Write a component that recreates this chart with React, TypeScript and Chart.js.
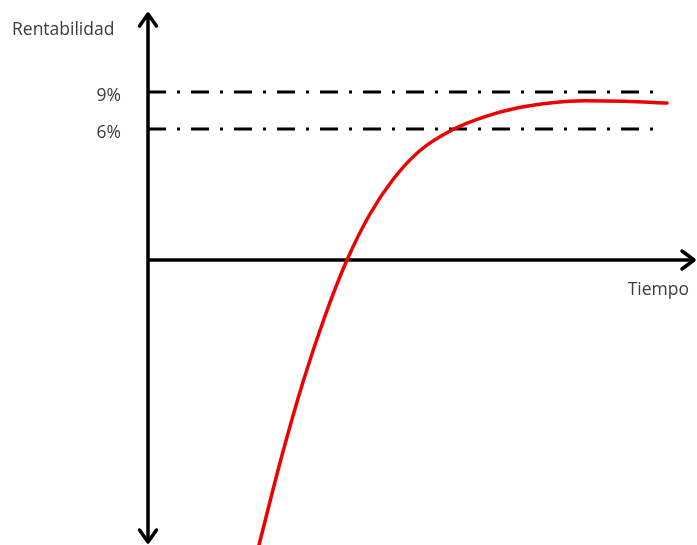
import React, { useEffect, useRef } from "react";
import { Chart, registerables } from "chart.js";

Chart.register(...registerables);

// Schematic units: time and return, origin where the axes cross
const curveTime = [11.1, 13.3, 15.5, 17.7, 19.9, 22.2, 24.5, 27.2, 30.5, 33.7, 37.0, 40.2, 43.7, 47.7, 51.9];
const curveReturn = [-28.5, -19.9, -12.2, -5.6, 0, 4.6, 8.05, 10.95, 13.05, 14.34, 15.23, 15.71, 15.92, 15.87, 15.7];
const refLevels = [16.8, 13.1];
const refLabels = ["9%", "6%"];
const refSpan = [0, 51.5];
const xTitle = "Tiempo";
const yTitle = "Rentabilidad";
const xRange = [-14.8, 54.9];
const yRange = [-28.5, 26.0];

const TEXT_COLOR = "#3c3c3c";
const FONT = '17.5px "Open Sans", "Noto Sans", sans-serif';

const arrowAxes = {
  id: "arrowAxes",
  beforeDatasetsDraw(chart: any) {
    const { ctx } = chart;
    const xs = chart.scales.x;
    const ys = chart.scales.y;
    const x0 = xs.getPixelForValue(0);
    const y0 = ys.getPixelForValue(0);
    const yTop = ys.top + 14;
    const yBot = ys.bottom - 3;
    const xRight = xs.right - 3;
    ctx.save();
    ctx.strokeStyle = "#000";
    ctx.lineWidth = 3.5;
    ctx.lineCap = "butt";
    ctx.beginPath();
    ctx.moveTo(x0, yTop + 1);
    ctx.lineTo(x0, yBot - 1);
    ctx.stroke();
    ctx.beginPath();
    ctx.moveTo(x0, y0);
    ctx.lineTo(xRight - 1, y0);
    ctx.stroke();
    ctx.lineCap = "round";
    ctx.lineJoin = "round";
    ctx.beginPath();
    ctx.moveTo(x0 - 8.5, yTop + 12);
    ctx.lineTo(x0, yTop);
    ctx.lineTo(x0 + 8.5, yTop + 12);
    ctx.stroke();
    ctx.beginPath();
    ctx.moveTo(x0 - 8.5, yBot - 12);
    ctx.lineTo(x0, yBot);
    ctx.lineTo(x0 + 8.5, yBot - 12);
    ctx.stroke();
    ctx.beginPath();
    ctx.moveTo(xRight - 12, y0 - 9);
    ctx.lineTo(xRight, y0);
    ctx.lineTo(xRight - 12, y0 + 9);
    ctx.stroke();
    ctx.restore();
  },
  afterDraw(chart: any) {
    const { ctx } = chart;
    const xs = chart.scales.x;
    const ys = chart.scales.y;
    const x0 = xs.getPixelForValue(0);
    const y0 = ys.getPixelForValue(0);
    ctx.save();
    ctx.font = FONT;
    ctx.fillStyle = TEXT_COLOR;
    ctx.textBaseline = "middle";
    ctx.textAlign = "left";
    ctx.fillText(yTitle, 12, 30);
    ctx.textAlign = "right";
    refLevels.forEach((lv, i) => {
      ctx.fillText(refLabels[i], x0 - 27, ys.getPixelForValue(lv) + 4);
    });
    ctx.fillText(xTitle, 689, y0 + 30);
    ctx.restore();
  },
};

export default function App() {
  const ref = useRef<HTMLCanvasElement | null>(null);
  useEffect(() => {
    if (!ref.current) return;
    const datasets: any[] = [
      {
        data: curveTime.map((t, i) => ({ x: t, y: curveReturn[i] })),
        borderColor: "#ee0000",
        borderWidth: 3.5,
        borderCapStyle: "round",
        pointRadius: 0,
        cubicInterpolationMode: "monotone",
        fill: false,
      },
      ...refLevels.map((lv) => ({
        data: refSpan.map((t) => ({ x: t, y: lv })),
        borderColor: "#000",
        borderWidth: 3,
        borderDash: [18, 11, 3, 11],
        pointRadius: 0,
        fill: false,
      })),
    ];
    const chart = new Chart(ref.current, {
      type: "line",
      data: { datasets },
      options: {
        responsive: true,
        maintainAspectRatio: false,
        animation: false,
        events: [],
        layout: { padding: 0 },
        plugins: { legend: { display: false }, tooltip: { enabled: false } },
        scales: {
          x: { type: "linear", min: xRange[0], max: xRange[1], display: false },
          y: { type: "linear", min: yRange[0], max: yRange[1], display: false },
        },
      },
      plugins: [arrowAxes],
    } as any);
    return () => chart.destroy();
  }, []);
  return (
    <div style={{ position: "fixed", left: 0, top: 0, width: 697, height: 545, background: "#fff" }}>
      <canvas ref={ref} />
    </div>
  );
}
